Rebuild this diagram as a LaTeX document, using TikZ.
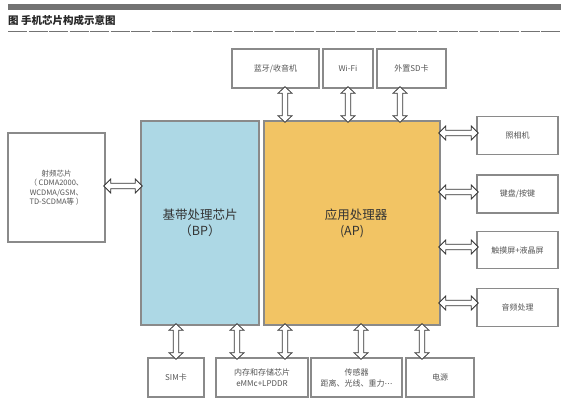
\documentclass[tikz,border=0pt]{standalone}
\usepackage{fontspec}
\setmainfont{Noto Sans CJK SC}
\newfontfamily\symfont{DejaVu Sans}
\usetikzlibrary{calc}
\definecolor{bordergray}{HTML}{8A8A8A}
\definecolor{bpblue}{HTML}{ADD8E5}
\definecolor{aporange}{HTML}{F2C464}
\definecolor{txtgray}{HTML}{555555}
\tikzset{
  box/.style={draw=bordergray, line width=1.5pt, fill=white, inner sep=1pt, align=center,
    text=txtgray, font=\fontsize{8}{11}\selectfont},
  chip/.style={draw=bordergray, line width=1.5pt, align=center, text=black!80,
    font=\fontsize{12.5}{16}\selectfont},
  hollow/.style={draw=black!80, fill=white, line width=0.75pt, line join=miter},
  varr/.style={to path={let \p1=(\tikztostart), \p2=(\tikztotarget) in
     (\x1,\y1+2pt) -- (\x1+7pt,\y1-4.5pt) -- (\x1+2.7pt,\y1-4.5pt) -- (\x1+2.7pt,\y2+4.5pt)
     -- (\x1+7pt,\y2+4.5pt) -- (\x1,\y2-2pt) -- (\x1-7pt,\y2+4.5pt) -- (\x1-2.7pt,\y2+4.5pt)
     -- (\x1-2.7pt,\y1-4.5pt) -- (\x1-7pt,\y1-4.5pt) -- cycle}},
  harr/.style={to path={let \p1=(\tikztostart), \p2=(\tikztotarget) in
     (\x1-2pt,\y1) -- (\x1+5pt,\y1+7pt) -- (\x1+5pt,\y1+2.7pt) -- (\x2-5pt,\y1+2.7pt)
     -- (\x2-5pt,\y1+7pt) -- (\x2+2pt,\y1) -- (\x2-5pt,\y1-7pt) -- (\x2-5pt,\y1-2.7pt)
     -- (\x1+5pt,\y1-2.7pt) -- (\x1+5pt,\y1-7pt) -- cycle}},
}
\begin{document}
\begin{tikzpicture}[x=1pt,y=-1pt]
\useasboundingbox (0,0) rectangle (573,405);
% header
\fill[black!55] (8,4) rectangle (561,9.5);
\node[anchor=west, inner sep=0pt, text=black!85, font=\fontsize{10.5}{12}\selectfont\bfseries] (title) at (8,20) {图 手机芯片构成示意图};
\draw[black!55, line width=0.8pt, dash pattern=on 19pt off 1.5pt] (8,31) -- (561,31);

% main chips
\node[chip, fill=bpblue, minimum width=118, minimum height=204] (bp) at (200,223) {基带处理芯片\\（BP）};
\node[chip, fill=aporange, minimum width=176, minimum height=204] (ap) at (352,223) {\hspace{8pt}应用处理器\\(AP)};

% top boxes
\node[box, minimum width=87, minimum height=39] (bt) at (275.5,68.5) {蓝牙/收音机};
\node[box, minimum width=50, minimum height=39] (wifi) at (348,68.5) {Wi-Fi};
\node[box, minimum width=69, minimum height=39] (sd) at (411.5,68.5) {外置SD卡};

% left box
\node[box, minimum width=97, minimum height=109, font=\fontsize{7.5}{9.5}\selectfont] (rf) at (56.5,187.5) {射频芯片\\（ CDMA2000、\\WCDMA/GSM、\\TD-SCDMA等 ）};

% right boxes
\node[box, minimum width=81, minimum height=38] (cam) at (517.5,135.5) {照相机};
\node[box, minimum width=81, minimum height=38] (kb) at (517.5,194) {键盘/按键};
\node[box, minimum width=81, minimum height=37] (ts) at (517.5,250) {触摸屏+液晶屏};
\node[box, minimum width=81, minimum height=38] (au) at (517.5,307.5) {音频处理};

% bottom boxes
\node[box, minimum width=56, minimum height=39] (sim) at (176,377.5) {SIM卡};
\node[box, minimum width=92, minimum height=39] (mem) at (262,377.5) {内存和存储芯片\\eMMc+LPDDR};
\node[box, minimum width=91, minimum height=39] (sen) at (356.5,377.5) {传感器\\距离、光线、重力{\symfont ⋯}};
\node[box, minimum width=68, minimum height=39] (pw) at (440,377.5) {电源};

% arrows top
\draw[hollow] ([xshift=9.5pt]bt.south) to[varr] ([xshift=9.5pt]bt.south |- ap.north);
\draw[hollow] (wifi.south) to[varr] (wifi.south |- ap.north);
\draw[hollow] ([xshift=-11.5pt]sd.south) to[varr] ([xshift=-11.5pt]sd.south |- ap.north);
% left
\draw[hollow] ([yshift=1.5pt]rf.east) to[harr] ([yshift=1.5pt]rf.east -| bp.west);
% right
\draw[hollow] ([yshift=2.5pt]cam.west -| ap.east) to[harr] ([yshift=2.5pt]cam.west);
\draw[hollow] ([yshift=2pt]kb.west -| ap.east) to[harr] ([yshift=2pt]kb.west);
\draw[hollow] ([yshift=3pt]ts.west -| ap.east) to[harr] ([yshift=3pt]ts.west);
\draw[hollow] ([yshift=4.5pt]au.west -| ap.east) to[harr] ([yshift=4.5pt]au.west);
% bottom
\draw[hollow] (sim.north |- bp.south) to[varr] (sim.north);
\draw[hollow] ([xshift=-25pt]mem.north |- bp.south) to[varr] ([xshift=-25pt]mem.north);
\draw[hollow] ([xshift=23pt]mem.north |- ap.south) to[varr] ([xshift=23pt]mem.north);
\draw[hollow] ([xshift=4.5pt]sen.north |- ap.south) to[varr] ([xshift=4.5pt]sen.north);
\draw[hollow] ([xshift=-18pt]pw.north |- ap.south) to[varr] ([xshift=-18pt]pw.north);
\end{tikzpicture}
\end{document}
